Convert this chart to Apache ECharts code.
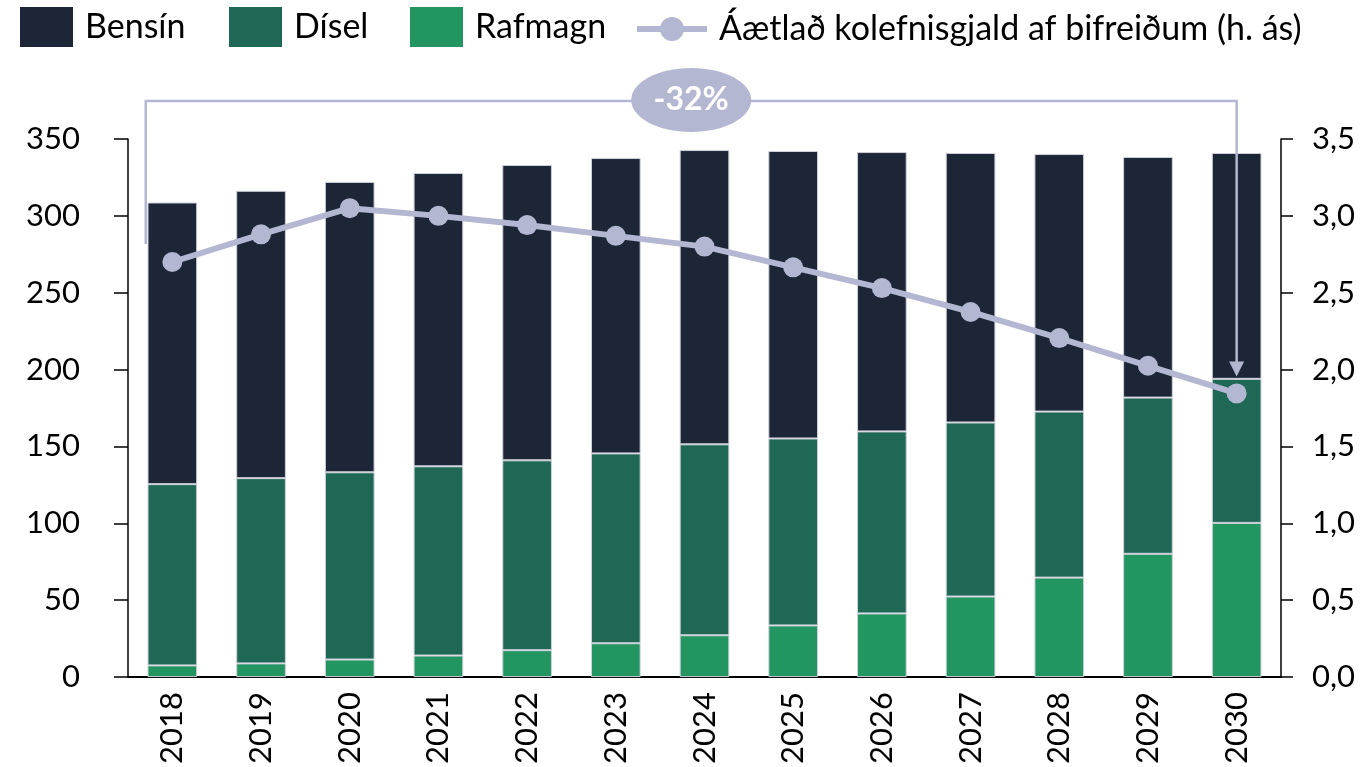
<!DOCTYPE html>
<html>
<head>
<meta charset="utf-8">
<script src="https://cdn.jsdelivr.net/npm/echarts@6/dist/echarts.min.js"></script>
<style>
html,body{margin:0;padding:0;background:#fff;}
#chart{width:1364px;height:767px;}
</style>
</head>
<body>
<div id="chart"></div>
<script>
const years = ['2018','2019','2020','2021','2022','2023','2024','2025','2026','2027','2028','2029','2030'];
const rafmagn = [7.6, 8.9, 11.4, 14.0, 17.5, 22.0, 27.2, 33.6, 41.4, 52.4, 64.7, 80.2, 100.3];
const disel = [117.9, 120.5, 121.8, 123.1, 123.5, 123.5, 124.2, 121.6, 118.4, 113.2, 108.0, 101.6, 93.7];
const bensin = [183.2, 186.9, 188.9, 190.8, 192.1, 192.1, 191.4, 187.0, 181.7, 175.3, 167.5, 156.5, 146.9];
const kolefnisgjald = [2.70, 2.88, 3.05, 3.00, 2.94, 2.87, 2.80, 2.665, 2.53, 2.375, 2.205, 2.025, 1.845];
const leftTicks = {min: 0, max: 350, interval: 50};
const rightTicks = {min: 0, max: 3.5, interval: 0.5};

const names = {b: 'Bensín', d: 'Dísel', r: 'Rafmagn', l: 'Áætlað kolefnisgjald af bifreiðum (h. ás)'};
const colors = {b: '#1c2637', d: '#206856', r: '#229561', l: '#b3b7d1'};
const FONT = 'Lato';

const chart = echarts.init(document.getElementById('chart'));

function barSeries(name, data, color) {
  return {
    name: name, type: 'bar', stack: 'total', data: data,
    barWidth: '56%',
    itemStyle: {color: color, borderColor: '#cdd0da', borderWidth: 1},
    emphasis: {disabled: true}
  };
}

function legendItem(name, left, top, w, h, extra) {
  return Object.assign({
    data: [name], left: left, top: top, itemWidth: w, itemHeight: h,
    padding: 0, selectedMode: false,
    textStyle: {fontFamily: FONT, fontSize: 34, color: '#000', padding: [5, 0, 0, 7]}
  }, extra || {});
}

const option = {
  animation: false,
  backgroundColor: '#fff',
  textStyle: {fontFamily: FONT},
  legend: [
    legendItem(names.b, 20, 7, 53, 40, {icon: 'rect', itemStyle: {borderWidth: 0}}),
    legendItem(names.d, 229, 7, 53, 40, {icon: 'rect', itemStyle: {borderWidth: 0}}),
    legendItem(names.r, 410, 7, 53, 40, {icon: 'rect', itemStyle: {borderWidth: 0}}),
    legendItem(names.l, 634, 12, 70, 30, {lineStyle: {width: 6}})
  ],
  grid: {left: 128, right: 83, top: 139, bottom: 88, containLabel: false},
  xAxis: {
    type: 'category', data: years,
    axisLine: {show: true, lineStyle: {color: '#000', width: 2}},
    axisTick: {show: false},
    axisLabel: {rotate: 90, fontFamily: FONT, fontSize: 31, color: '#000', margin: 15}
  },
  yAxis: [
    {
      type: 'value', min: leftTicks.min, max: leftTicks.max, interval: leftTicks.interval,
      axisLine: {show: true, lineStyle: {color: '#000', width: 1.5}},
      axisTick: {show: true, length: 14, lineStyle: {color: '#000', width: 1.5}},
      splitLine: {show: false},
      axisLabel: {fontFamily: FONT, fontSize: 31, color: '#000', margin: 48}
    },
    {
      type: 'value', position: 'right', min: rightTicks.min, max: rightTicks.max, interval: rightTicks.interval,
      axisLine: {show: true, lineStyle: {color: '#000', width: 1.5}},
      axisTick: {show: true, length: 12, lineStyle: {color: '#000', width: 1.5}},
      splitLine: {show: false},
      axisLabel: {fontFamily: FONT, fontSize: 31, color: '#000', margin: 31,
        formatter: v => v.toFixed(1).replace('.', ',')}
    }
  ],
  series: [
    barSeries(names.r, rafmagn, colors.r),
    barSeries(names.d, disel, colors.d),
    barSeries(names.b, bensin, colors.b),
    {
      name: names.l, type: 'line', yAxisIndex: 1, data: kolefnisgjald,
      symbol: 'circle', symbolSize: 20, z: 5,
      lineStyle: {color: colors.l, width: 6},
      itemStyle: {color: colors.l},
      emphasis: {disabled: true}
    }
  ]
};
chart.setOption(option);

// Annotation bracket (-32%) positioned from the chart's own scales
const n = years.length - 1;
const p0 = chart.convertToPixel({xAxisIndex: 0, yAxisIndex: 1}, [0, kolefnisgjald[0]]);
const pN = chart.convertToPixel({xAxisIndex: 0, yAxisIndex: 1}, [n, kolefnisgjald[n]]);
const p1 = chart.convertToPixel({xAxisIndex: 0, yAxisIndex: 1}, [1, kolefnisgjald[1]]);
const band = p1[0] - p0[0];
const gridTop = chart.convertToPixel({yAxisIndex: 0}, leftTicks.max);
const topY = gridTop - 38;
const lx = p0[0] - 0.3 * band;
const lBottom = p0[1] - 18;
const rx = pN[0];
const tipY = pN[1] - 17;
const headLen = 15, headHalf = 7.5;
const midX = (lx + rx) / 2;
const pct = Math.round((kolefnisgjald[n] / kolefnisgjald[0] - 1) * 100);

chart.setOption({
  graphic: [
    {type: 'polyline', z: 100, silent: true,
      shape: {points: [[lx, lBottom], [lx, topY], [rx, topY], [rx, tipY - headLen + 1]]},
      style: {stroke: colors.l, lineWidth: 2.5, fill: null}},
    {type: 'polygon', z: 100, silent: true,
      shape: {points: [[rx - headHalf, tipY - headLen], [rx + headHalf, tipY - headLen], [rx, tipY]]},
      style: {fill: colors.l}},
    {type: 'ellipse', z: 101, silent: true,
      shape: {cx: midX, cy: topY - 1, rx: 60, ry: 32},
      style: {fill: colors.l}},
    {type: 'text', z: 102, silent: true, x: midX, y: topY - 1,
      style: {text: (pct > 0 ? '+' : '') + pct + '%', fill: '#fff', font: 'bold 32px ' + FONT,
        align: 'center', verticalAlign: 'middle'}}
  ]
});
</script>
</body>
</html>
